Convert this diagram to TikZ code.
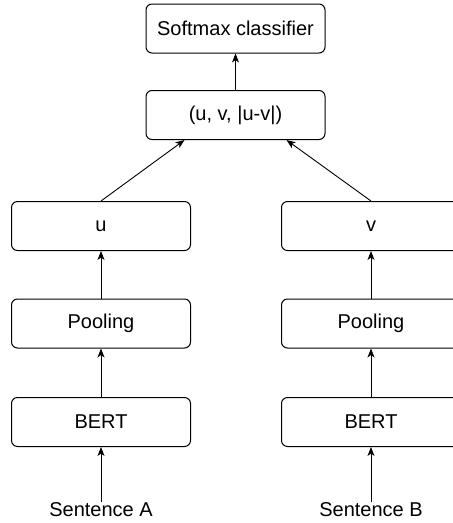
\documentclass[tikz,border=0pt]{standalone}
\usepackage{fontspec}
\setmainfont{Liberation Sans}
\usetikzlibrary{arrows.meta}
\begin{document}
\begin{tikzpicture}[x=1pt,y=-1pt,
  box/.style={draw, line width=1pt, rounded corners=6pt, minimum width=179pt,
    minimum height=49pt, inner sep=0pt, font=\fontsize{20}{24}\selectfont},
  lbl/.style={inner sep=1pt, font=\fontsize{20}{24}\selectfont},
  flow/.style={line width=0.9pt, -{Stealth[length=9pt,width=7pt,inset=2.5pt]}}]
\useasboundingbox (0,0) rectangle (453,523);
\clip (0,0) rectangle (453,523);

% top: classifier and concatenation
\node[box] (soft) at (235.5,28.5) {Softmax classifier};
\node[box] (uv) at (235.5,115) {(u, v, |u-v|)};

% left branch
\node[box] (u) at (101,226) {u};
\node[box] (poolA) at (101,323.5) {Pooling};
\node[box] (bertA) at (101,422) {BERT};
\node[lbl] (sA) at (101,510) {Sentence A};

% right branch
\node[box] (v) at (371,226) {v};
\node[box] (poolB) at (371,323.5) {Pooling};
\node[box] (bertB) at (371,422) {BERT};
\node[lbl] (sB) at (371,510) {Sentence B};

% connectors
\draw[flow] (sA.north) -- (bertA.south);
\draw[flow] (bertA.north) -- (poolA.south);
\draw[flow] (poolA.north) -- (u.south);
\draw[flow] (u.north) -- ([xshift=-51pt]uv.south);

\draw[flow] (sB.north) -- (bertB.south);
\draw[flow] (bertB.north) -- (poolB.south);
\draw[flow] (poolB.north) -- (v.south);
\draw[flow] (v.north) -- ([xshift=51pt]uv.south);

\draw[flow] (uv.north) -- (soft.south);
\end{tikzpicture}
\end{document}
